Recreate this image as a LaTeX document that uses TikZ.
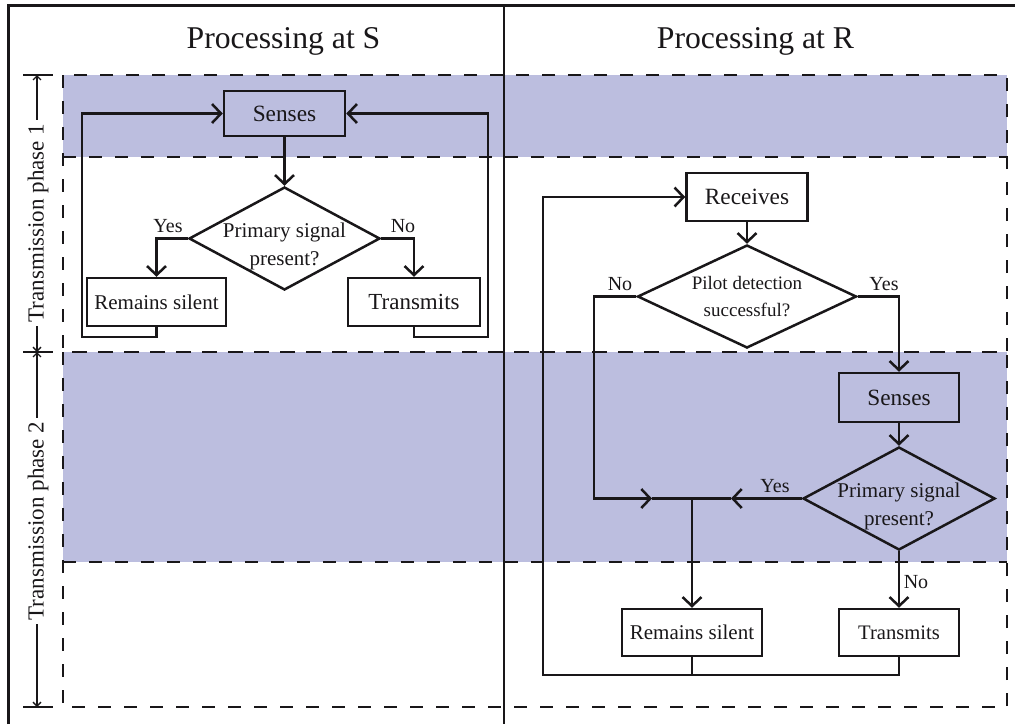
\documentclass[tikz,border=0pt]{standalone}
\usepackage{fontspec}
\setmainfont{Liberation Serif}
\usetikzlibrary{shapes.geometric,arrows.meta}
\definecolor{phaseshade}{RGB}{188,190,223}
\definecolor{ink}{RGB}{25,23,25}
\newcommand\myfs[2]{\fontsize{#1}{#2}\selectfont}
\tikzset{
  flow/.style={line width=2.5pt,draw=ink},
  arr/.style={flow,-{Straight Barb[length=9pt,width=19pt]}},
  box/.style={draw=ink,line width=2.5pt,rectangle,inner sep=0pt},
  dia/.style={draw=ink,line width=2.5pt,diamond,inner sep=0pt},
  dtext/.style={align=center,font=\myfs{21}{28}},
  dtextsmall/.style={align=center,font=\myfs{19}{27}},
  lab/.style={font=\myfs{20}{24}},
  title/.style={font=\myfs{31.7}{36},anchor=base},
  phaselab/.style={font=\myfs{23}{26},rotate=90},
  phasedash/.style={line width=2.8pt,draw=ink,dash pattern=on 13pt off 13pt},
  tick/.style={line width=1.3pt,draw=ink},
  parr/.style={line width=1.3pt,draw=ink,-{Straight Barb[length=4pt,width=8pt]}},
}
\begin{document}
\begin{tikzpicture}[x=1pt,y=-1pt,every node/.style={inner sep=0pt,text=ink}]
\useasboundingbox (0,0) rectangle (1015,724);
% shaded bands
\fill[phaseshade] (63,75) rectangle (1007,157);
\fill[phaseshade] (63,352) rectangle (1007,562);
% dashed phase regions
\draw[phasedash] (63,75) rectangle (1007,352);
\draw[phasedash] (63,157) -- (1007,157);
\draw[phasedash] (63,352) rectangle (1007,707);
\draw[phasedash] (63,562) -- (1007,562);
% frame
\draw[line width=3pt,draw=ink] (8,724) -- (8,5) -- (1015,5);
\draw[line width=2.6pt,draw=ink] (504,5) -- (504,724);
% titles
\node[title] (tS) at (283.5,48) {Processing at S};
\node[title] (tR) at (755.5,48) {Processing at R};
% phase labels
\coordinate (t1) at (37,75);
\coordinate (t2) at (37,352);
\coordinate (t3) at (37,707);
\draw[tick] (23,75) -- (53,75);
\draw[tick] (23,352) -- (53,352);
\draw[tick] (23,707) -- (53,707);
\node[phaselab] (ph1) at (38,223) {Transmission phase 1};
\node[phaselab] (ph2) at (38,521) {Transmission phase 2};
\draw[parr,shorten <=4pt] (ph1.east -| t1) -- (t1);
\draw[parr,shorten <=4pt] (ph1.west -| t1) -- (t2);
\draw[parr,shorten <=4pt] (ph2.east -| t2) -- (t2);
\draw[parr,shorten <=4pt] (ph2.west -| t2) -- (t3);
% ---------- S flow ----------
\node[box,minimum width=121pt,minimum height=45pt,font=\myfs{23.3}{26}] (sA) at (284.5,113.5) {Senses};
\node[dia,minimum width=191pt,minimum height=103pt] (dA) at (284.5,238.5) {};
\node[dtext] (dAt) at (284.5,246) {Primary signal\\present?};
\node[box,minimum width=139pt,minimum height=48pt,font=\myfs{21}{24}] (rA) at (156.5,302) {Remains silent};
\node[box,minimum width=132pt,minimum height=48pt,font=\myfs{23}{26}] (tA) at (414,302) {Transmits};
\draw[arr] (sA.south) -- (dA.north);
\draw[arr] (dA.west) -| (rA.north);
\draw[arr] (dA.east) -| (tA.north);
\node[lab] (yA) at (168,226) {Yes};
\node[lab] (nA) at (403,226) {No};
\coordinate (lAl) at (82,337);
\coordinate (lAr) at (488,337);
\draw[arr] (rA.south) |- (lAl) |- (sA.west);
\draw[arr] (tA.south) |- (lAr) |- (sA.east);
% ---------- R flow ----------
\node[box,minimum width=121pt,minimum height=48pt,font=\myfs{23.3}{26}] (rc) at (747,197) {Receives};
\node[dia,minimum width=219pt,minimum height=103pt] (dB) at (747,296.5) {};
\node[dtextsmall] (dBt) at (747,297) {Pilot detection\\successful?};
\node[box,minimum width=120pt,minimum height=49pt,font=\myfs{23.3}{26}] (sB) at (899,397.5) {Senses};
\node[dia,minimum width=192pt,minimum height=103pt] (dC) at (899,498.5) {};
\node[dtext] (dCt) at (899,506) {Primary signal\\present?};
\node[box,minimum width=140pt,minimum height=47pt,font=\myfs{21}{24}] (rB) at (692,632.5) {Remains silent};
\node[box,minimum width=120pt,minimum height=47pt,font=\myfs{20.6}{24}] (tB) at (899,632.5) {Transmits};
\coordinate (J) at (692,498.5);
\coordinate (nB) at (594,498.5);
\coordinate (mN) at (652,498.5);
\coordinate (mY) at (731,498.5);
\coordinate (lB) at (543,675);
\draw[arr] (rc.south) -- (dB.north);
\draw[arr] (dB.west) -| (nB) -- (mN);
\draw[flow] (mN) -- (J);
\draw[arr] (dB.east) -| (sB.north);
\draw[arr] (sB.south) -- (dC.north);
\draw[arr] (dC.west) -- (mY);
\draw[flow] (mY) -- (J);
\draw[arr] (J) -- (rB.north);
\draw[arr] (dC.south) -- (tB.north);
\draw[flow] (rB.south) -- (rB.south |- lB);
\draw[arr] (tB.south) |- (lB) |- (rc.west);
\node[lab] (nB1) at (620,284) {No};
\node[lab] (yB1) at (884,284) {Yes};
\node[lab] (yC) at (775,486) {Yes};
\node[lab] (nC) at (916,582) {No};
\end{tikzpicture}
\end{document}
